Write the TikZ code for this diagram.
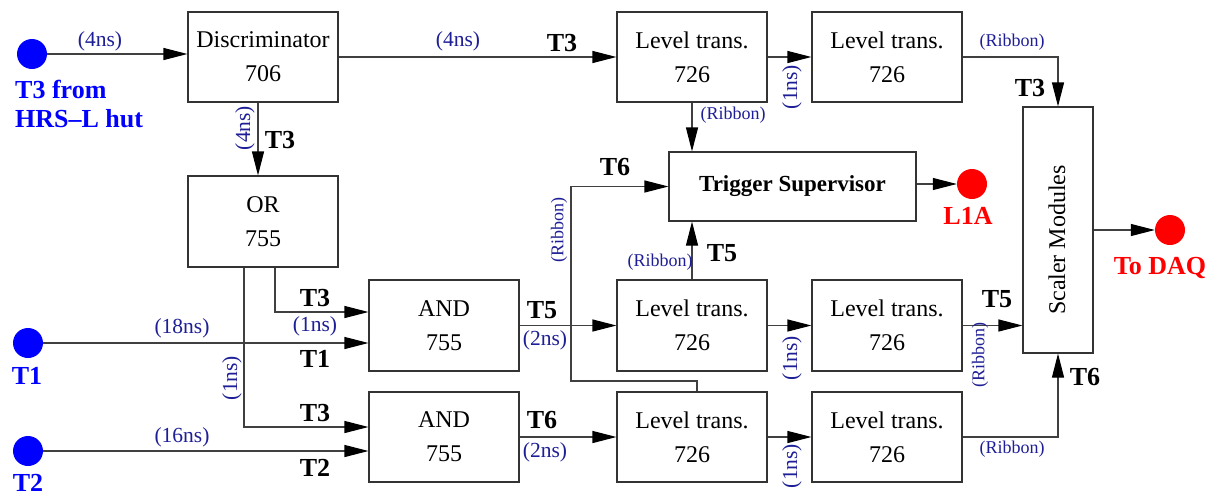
\documentclass[tikz,border=0pt]{standalone}
\usepackage{fontspec}
\setmainfont{Liberation Serif}
\usetikzlibrary{arrows.meta}
\definecolor{nsblue}{RGB}{30,30,150}
\begin{document}
\begin{tikzpicture}[x=1pt,y=-1pt,
  box/.style={draw=black!80,line width=1.1pt,minimum width=150pt,minimum height=90pt,inner sep=0pt,align=center,font=\fontsize{24}{34}\selectfont},
  arr/.style={draw=black!75,line width=1.1pt,-{Triangle[length=24pt,width=12pt,black]}},
  ln/.style={draw=black!75,line width=1.1pt},
  ns/.style={text=nsblue,inner sep=0pt,font=\fontsize{21.5}{24}\selectfont},
  rib/.style={text=nsblue,inner sep=0pt,font=\fontsize{18}{20}\selectfont},
  sig/.style={inner sep=0pt,font=\bfseries\fontsize{26}{28}\selectfont},
  bdot/.style={circle,fill=blue,minimum size=30pt,inner sep=0pt},
  rdot/.style={circle,fill=red,minimum size=30pt,inner sep=0pt},
  blab/.style={text=blue,inner sep=0pt,font=\bfseries\fontsize{26}{29}\selectfont},
  rlab/.style={text=red,inner sep=0pt,font=\bfseries\fontsize{26}{29}\selectfont}]
\useasboundingbox (0,0) rectangle (1221,496);

% boxes
\node[box] (disc) at (263,57) {Discriminator\\706};
\node[box,minimum height=91pt] (or) at (263,221.5) {OR\\755};
\node[box] (lt1) at (692,57) {Level trans.\\726};
\node[box] (lt2) at (887,57) {Level trans.\\726};
\node[box,minimum width=247pt,minimum height=69pt,font=\bfseries\fontsize{23}{28}\selectfont] (ts) at (792.5,186.5) {Trigger Supervisor};
\node[box,minimum width=70pt,minimum height=246pt] (sc) at (1058,230) {};
\node[rotate=90,inner sep=0pt,font=\fontsize{24}{28}\selectfont] (sct) at (1057,240) {Scaler Modules};
\node[box,minimum height=91pt] (and1) at (444,325.5) {AND\\755};
\node[box] (and2) at (444,437) {AND\\755};
\node[box,minimum height=91pt] (lt3) at (692,325.5) {Level trans.\\726};
\node[box,minimum height=91pt] (lt4) at (887,325.5) {Level trans.\\726};
\node[box] (lt5) at (692,437) {Level trans.\\726};
\node[box] (lt6) at (887,437) {Level trans.\\726};

% dots
\node[bdot] (c3) at (32,54) {};
\node[bdot] (c1) at (28,343) {};
\node[bdot] (c2) at (28,451) {};
\node[rdot] (l1a) at (972,184) {};
\node[rdot] (daq) at (1170,230) {};
\node[blab,anchor=north west,align=left] (c3t) at (15,80) {T3 from\\HRS--L hut};
\node[blab] (c1t) at (27,376) {T1};
\node[blab] (c2t) at (28,483) {T2};
\node[rlab] (l1at) at (968,216) {L1A};
\node[rlab] (daqt) at (1160,268) {To DAQ};

% connectors
\draw[arr] (c3) -- (c3 -| disc.west);
\draw[arr] ([xshift=-5pt]disc.south) -- ([xshift=-5pt]or.north);
\draw[arr] (disc.east) -- (lt1.west);
\draw[arr] (lt1.east) -- (lt2.west);
\draw[arr] (lt2.east) -| (sc.north);
\draw[arr] (lt1.south) -- (lt1.south |- ts.north);
\draw[arr] (ts.east |- l1a) -- (l1a);
\draw[arr] (sc.east) -- (daq);
\draw[arr] ([xshift=12pt]or.south) |- ([yshift=13.5pt]and1.west);
\draw[arr] ([xshift=-19pt]or.south) |- ([yshift=10pt]and2.west);
\draw[arr] (c1) -- (c1 -| and1.west);
\draw[arr] (c2) -- (c2 -| and2.west);
\draw[arr] (and1.east) -- (lt3.west);
\draw[arr] (and2.east) -- (lt5.west);
\draw[arr] (lt3.east) -- (lt4.west);
\draw[arr] (lt5.east) -- (lt6.west);
\draw[arr] (lt4.east) -- (lt4.east -| sc.west);
\draw[arr] (lt6.east) -| (sc.south);
\draw[arr] (lt3.north) -- (lt3.north |- ts.south);
\coordinate (j1) at (571,381);
\draw[arr] ([xshift=5pt]lt5.north) |- (j1) |- (ts.west);

% labels
\node[ns] (n1) at (100,41) {(4ns)};
\node[ns,rotate=90] (n2) at (245,128) {(4ns)};
\node[sig] (s1) at (280,140) {T3};
\node[ns] (n3) at (458,41) {(4ns)};
\node[sig] (s2) at (562,43) {T3};
\node[ns,rotate=90] (n4) at (792,87) {(1ns)};
\node[rib] (r1) at (1012,42) {(Ribbon)};
\node[sig] (s3) at (1030,88) {T3};
\node[rib] (r2) at (733,115) {(Ribbon)};
\node[sig] (s4) at (615,167) {T6};
\node[rib,rotate=90] (r3) at (559,230) {(Ribbon)};
\node[rib] (r4) at (660,262) {(Ribbon)};
\node[sig] (s5) at (722,253) {T5};
\node[sig] (s6) at (315,298) {T3};
\node[ns] (n5) at (315,326) {(1ns)};
\node[ns,rotate=90] (n6) at (232,378) {(1ns)};
\node[sig] (s7) at (315,413) {T3};
\node[ns] (n7) at (182,328) {(18ns)};
\node[sig] (s8) at (315,359) {T1};
\node[ns] (n8) at (182,437) {(16ns)};
\node[sig] (s9) at (315,468) {T2};
\node[sig] (s10) at (542,310) {T5};
\node[ns] (n9) at (545,340) {(2ns)};
\node[sig] (s11) at (542,420) {T6};
\node[ns] (n10) at (545,452) {(2ns)};
\node[ns,rotate=90] (n11) at (792,358) {(1ns)};
\node[ns,rotate=90] (n12) at (792,466) {(1ns)};
\node[sig] (s12) at (997,299) {T5};
\node[rib,rotate=90] (r5) at (980,355) {(Ribbon)};
\node[sig] (s13) at (1085,377) {T6};
\node[rib] (r6) at (1012,449) {(Ribbon)};
\end{tikzpicture}
\end{document}
